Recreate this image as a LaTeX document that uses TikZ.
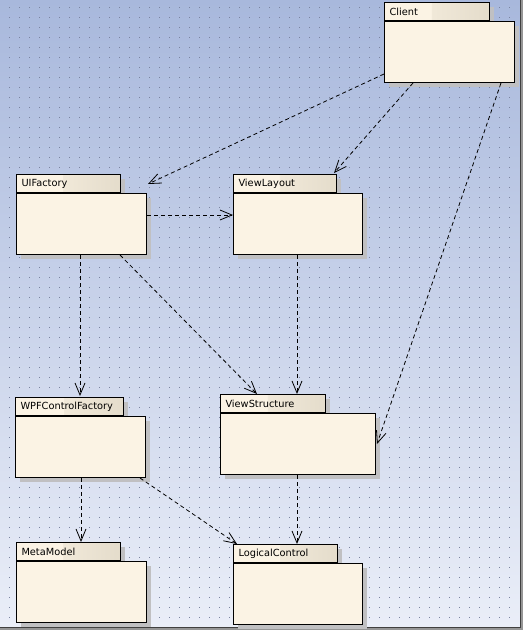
\documentclass[tikz,border=0pt]{standalone}
\usepackage{fontspec}
\setmainfont{DejaVu Sans}
\usetikzlibrary{arrows.meta,calc,shadows}
\definecolor{bgtop}{RGB}{168,184,220}
\definecolor{bgbot}{RGB}{234,238,248}
\definecolor{dotc}{RGB}{122,132,160}
\definecolor{cream}{RGB}{251,243,228}
\definecolor{tan}{RGB}{228,220,203}
\definecolor{shadowc}{RGB}{192,192,194}
\definecolor{framegray}{RGB}{150,150,150}
\begin{document}
\begin{tikzpicture}[x=1pt,y=-1pt,
  pkgshadow/.style={general shadow={fill=shadowc, shadow xshift=4pt, shadow yshift=-4pt}},
  pkgtab/.style={draw=black, line width=1pt, fill=cream, anchor=north west,
    inner xsep=5pt, inner ysep=0pt, minimum height=18pt, text width=#1,
    align=left, font=\fontsize{9.8}{11}\selectfont, pkgshadow,
    path picture={\shade[left color=cream, right color=tan]
      ($(path picture bounding box.north west)!0.45!(path picture bounding box.north east)$)
      rectangle (path picture bounding box.south east);}},
  pkgbody/.style={draw=black, line width=1pt, fill=cream, anchor=north west,
    inner sep=0pt, minimum height=61pt, minimum width=#1, pkgshadow},
  dep/.style={draw=black, line width=0.8pt, dash pattern=on 4pt off 3pt,
    -{Straight Barb[length=12pt,width=10pt]}}]
\useasboundingbox (0,0) rectangle (523,630);
% frame and background
\fill[framegray] (0,0) rectangle (523,630);
\shade[top color=bgtop, bottom color=bgbot] (0,0) rectangle (520,627);
\draw[black!75, line width=1pt] (520.5,0) -- (520.5,627.5) -- (0,627.5);
\foreach \y in {7,17,...,617}
  \draw[dotc, line width=1pt, dash pattern=on 1pt off 9pt] (9,\y+0.5) -- (512,\y+0.5);

% packages
\node[pkgtab=95pt] (clientTab) at (384,2) {Client};
\node[pkgbody=130pt] (client) at (clientTab.south west) {};

\node[pkgtab=94pt] (uifTab) at (16,174) {UIFactory};
\node[pkgbody=130pt] (uif) at (uifTab.south west) {};

\node[pkgtab=93pt] (vlTab) at (233,174) {ViewLayout};
\node[pkgbody=129pt] (vl) at (vlTab.south west) {};

\node[pkgtab=95pt] (vsTab) at (220,394) {ViewStructure};
\node[pkgbody=155pt] (vs) at (vsTab.south west) {};

\node[pkgtab=98pt] (wpfTab) at (15,397) {WPFControlFactory};
\node[pkgbody=130pt] (wpf) at (wpfTab.south west) {};

\node[pkgtab=94pt] (mmTab) at (16,542) {MetaModel};
\node[pkgbody=130pt] (mm) at (mmTab.south west) {};

\node[pkgtab=94pt] (lcTab) at (233,544) {LogicalControl};
\node[pkgbody=129pt] (lc) at (lcTab.south west) {};

% dependencies
\draw[dep] ($(client.south west)+(0,-9)$) -- ($(uif.north east)+(1,-9)$);
\draw[dep] ($(client.south west)+(29,0)$) -- ($(vlTab.north east)+(-3,-1)$);
\draw[dep] ($(client.south west)+(117,0)$) -- ($(vs.north east)+(1,31)$);
\draw[dep] ($(uif.north east)+(0,22)$) -- ($(vl.north west)+(0,22)$);
\draw[dep] ($(uif.south west)+(64,0)$) -- ($(wpfTab.north west)+(65,-1)$);
\draw[dep] ($(uif.south west)+(104,0)$) -- ($(vsTab.north west)+(37,0)$);
\draw[dep] ($(vl.south west)+(64,0)$) -- ($(vsTab.north west)+(77,0)$);
\draw[dep] ($(wpf.south west)+(66,0)$) -- ($(mmTab.north west)+(65,0)$);
\draw[dep] ($(wpf.south west)+(125,0)$) -- ($(lcTab.north west)+(4,0)$);
\draw[dep] ($(vs.south west)+(77,0)$) -- ($(lcTab.north west)+(64,0)$);
\end{tikzpicture}
\end{document}
